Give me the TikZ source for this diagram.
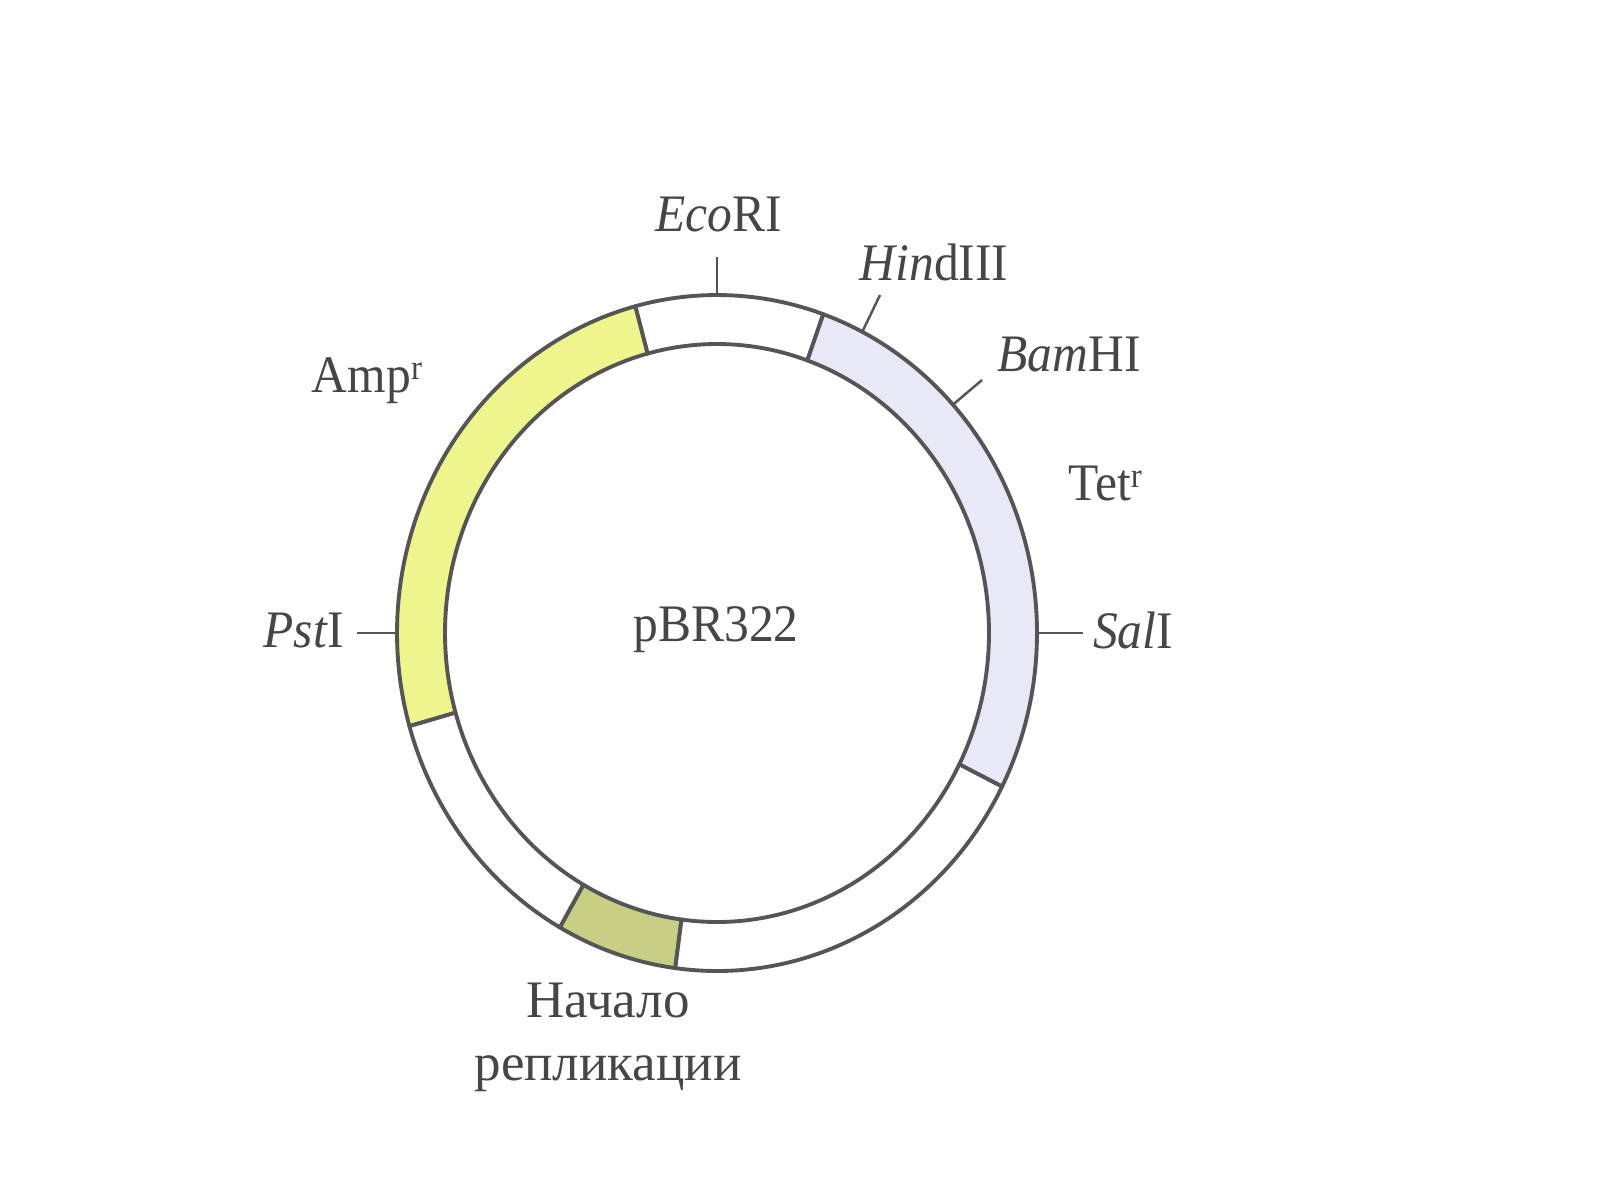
\documentclass[tikz,border=0pt]{standalone}
\usepackage{fontspec}
\setmainfont{Liberation Serif}
\usetikzlibrary{positioning}
\definecolor{ringline}{RGB}{85,85,85}
\definecolor{labelgray}{RGB}{70,70,70}
\definecolor{ampfill}{RGB}{238,245,140}
\definecolor{tetfill}{RGB}{232,232,246}
\definecolor{orifill}{RGB}{200,206,132}
\newcommand{\ringpart}[3]{%
  \filldraw[part,fill=#3] (#1:3.2 and 3.38) arc[start angle=#1,end angle=#2,x radius=3.2,y radius=3.38]
    -- (#2:2.72 and 2.89) arc[start angle=#2,end angle=#1,x radius=2.72,y radius=2.89] -- cycle;}

\begin{document}
\begin{tikzpicture}[
	part/.style={draw=ringline,line width=1.1pt,line join=round},
	tick/.style={draw=ringline,line width=0.7pt},
	lab/.style={text=labelgray,font=\fontsize{15}{17}\selectfont,xscale=0.94,inner sep=0pt}
]
\useasboundingbox (0,0) rectangle (16,12);
\fill[white] (0,0) rectangle (16,12);

\begin{scope}[shift={(7.17,5.67)}]
\ringpart{70.6}{104.8}{white}
\ringpart{104.8}{196}{ampfill}
\ringpart{196}{240.6}{white}
\ringpart{240.6}{262.5}{orifill}
\ringpart{262.5}{333}{white}
\ringpart{-27}{70.6}{tetfill}

% restriction sites
\coordinate (ecoA) at (90:3.2 and 3.38);
\coordinate (ecoB) at (0,3.76);
\coordinate (hinA) at (63:3.2 and 3.38);
\coordinate (hinB) at (1.63,3.38);
\coordinate (bamA) at (42.5:3.2 and 3.38);
\coordinate (bamB) at (2.65,2.53);
\coordinate (salA) at (0:3.2 and 3.38);
\coordinate (salB) at (3.66,0);
\coordinate (pstA) at (180:3.2 and 3.38);
\coordinate (pstB) at (-3.60,0);
\end{scope}

\draw[tick] (ecoA) -- (ecoB);
\draw[tick] (hinA) -- (hinB);
\draw[tick] (bamA) -- (bamB);
\draw[tick] (salA) -- (salB);
\draw[tick] (pstA) -- (pstB);

\node (eco) [lab] at (7.19,9.86) {\textit{Eco}RI};
\node (hin) [lab] at (9.34,9.38) {\textit{Hin}dIII};
\node (bam) [lab] at (10.69,8.45) {\textit{Bam}HI};
\node (tet) [lab] at (11.05,7.17) {Tet\raisebox{0.5ex}{\fontsize{10}{10}\selectfont r}};
\node (sal) [lab] at (11.33,5.70) {\textit{Sal}I};
\node (pst) [lab] at (3.04,5.70) {\textit{Pst}I};
\node (amp) [lab] at (3.67,8.19) {Amp\raisebox{0.55ex}{\fontsize{10}{10}\selectfont r}};
\node (pbr) [lab] at (7.16,5.70) {pBR322};
\node (ori) [lab,xscale=1.07,align=center] at (6.08,1.63) {Начало\\[1pt]репликации};
\end{tikzpicture}
\end{document}
